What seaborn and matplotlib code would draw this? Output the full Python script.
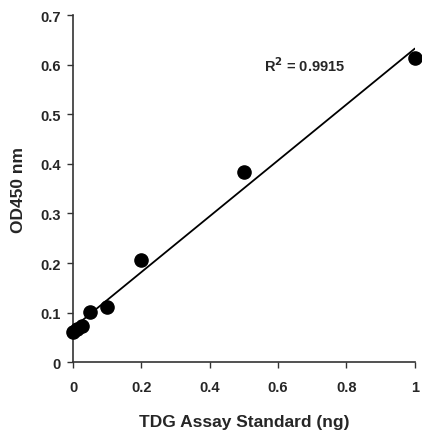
import numpy as np
import pandas as pd
import matplotlib
matplotlib.use("Agg")
import matplotlib.pyplot as plt
import seaborn as sns

# Data
standard_ng = [0.0, 0.0125, 0.025, 0.05, 0.1, 0.2, 0.5, 1.0]
od450 = [0.060, 0.068, 0.073, 0.101, 0.112, 0.206, 0.383, 0.613]
x_ticks = [0, 0.2, 0.4, 0.6, 0.8, 1]
x_tick_labels = ["0", "0.2", "0.4", "0.6", "0.8", "1"]
y_ticks = [0, 0.1, 0.2, 0.3, 0.4, 0.5, 0.6, 0.7]
y_tick_labels = ["0", "0.1", "0.2", "0.3", "0.4", "0.5", "0.6", "0.7"]
r2_text = "R$^2$ = 0.9915"

sns.set_style("ticks")
plt.rcParams['font.family'] = ['Liberation Sans', 'DejaVu Sans']
plt.rcParams['font.weight'] = 'bold'
plt.rcParams['mathtext.default'] = 'bf'

df = pd.DataFrame({"x": standard_ng, "y": od450})

fig = plt.figure(figsize=(4.22, 4.35), dpi=100)
ax = fig.add_axes([0.173, 0.165, 0.81, 0.798])

sns.regplot(data=df, x="x", y="y", ci=None, ax=ax,
            scatter_kws=dict(s=90, color="black", edgecolor="black", alpha=1,
                             zorder=3, clip_on=False),
            line_kws=dict(color="black", lw=1.3), truncate=True)

ax.set_xlim(0, 1)
ax.set_ylim(0, 0.7)
ax.set_xticks(x_ticks)
ax.set_xticklabels(x_tick_labels, fontsize=10.5, fontweight='bold')
ax.set_yticks(y_ticks)
ax.set_yticklabels(y_tick_labels, fontsize=10.5, fontweight='bold')
ax.tick_params(axis='both', direction='out', length=4, width=1, color='#333333')
ax.tick_params(axis='x', pad=9)
ax.tick_params(axis='y', pad=5)
ax.set_xlabel("TDG Assay Standard (ng)", fontsize=12.5, fontweight='bold', labelpad=14)
ax.set_ylabel("OD450 nm", fontsize=12.5, fontweight='bold', labelpad=10)

for s in ["top", "right"]:
    ax.spines[s].set_visible(False)
for s in ["left", "bottom"]:
    ax.spines[s].set_color('#333333')
    ax.spines[s].set_linewidth(1.2)

ax.text(0.56, 0.60, r2_text, fontsize=10.5, fontweight='bold', va='center', ha='left')

fig.savefig("out.png", dpi=100)
